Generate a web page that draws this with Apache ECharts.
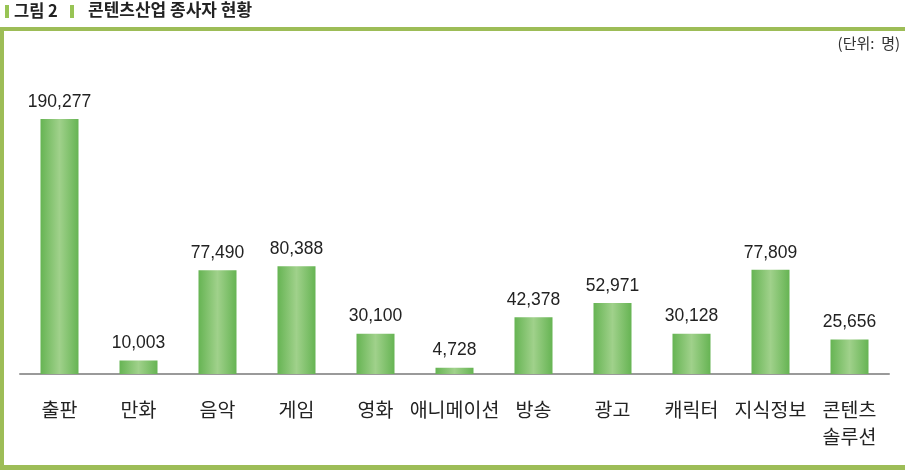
<!DOCTYPE html>
<html>
<head>
<meta charset="utf-8">
<script src="https://cdn.jsdelivr.net/npm/echarts@6/dist/echarts.min.js"></script>
<style>
html,body{margin:0;padding:0;background:#fff;}
#main{width:905px;height:470px;}
</style>
</head>
<body>
<div id="main"></div>
<script>
var categories=['출판','만화','음악','게임','영화','애니메이션','방송','광고','캐릭터','지식정보','콘텐츠\n솔루션']
var workers=[190277,10003,77490,80388,30100,4728,42378,52971,30128,77809,25656]

var font='"Noto Sans CJK KR", "Noto Sans", sans-serif'
var frameColor='#9dbd57'

var chart=echarts.init(document.getElementById('main'))
chart.setOption({
    animation:false,
    graphic:[
        {type:'rect',shape:{x:5,y:5,width:4,height:13},style:{fill:'#98c455'}},
        {type:'text',left:14,top:2,style:{text:'그림 2',font:'bold 16.5px '+font,fill:'#222'}},
        {type:'rect',shape:{x:70,y:5,width:4,height:13},style:{fill:'#98c455'}},
        {type:'text',left:88,top:1,style:{text:'콘텐츠산업 종사자 현황',font:'bold 17px '+font,fill:'#222'}},
        {type:'rect',shape:{x:0,y:27,width:905,height:4},style:{fill:frameColor}},
        {type:'rect',shape:{x:0,y:27,width:4,height:443},style:{fill:frameColor}},
        {type:'rect',shape:{x:0,y:465,width:905,height:5},style:{fill:frameColor}},
        {type:'text',right:5,top:36,style:{text:'(단위:  명)',font:'15px '+font,fill:'#333'}}
    ],
    grid:{left:20,right:16,top:106,bottom:96},
    xAxis:{
        type:'category',
        data:categories,
        axisLine:{lineStyle:{color:'#9a9a9a',width:2}},
        axisTick:{show:false},
        axisLabel:{color:'#222',fontSize:19.5,fontFamily:font,margin:22,lineHeight:27,interval:0}
    },
    yAxis:{
        type:'value',
        min:0,
        max:200000,
        show:false,
        splitLine:{show:false}
    },
    series:[{
        type:'bar',
        data:workers,
        barWidth:38,
        itemStyle:{
            color:new echarts.graphic.LinearGradient(0,0,1,0,[
                {offset:0,color:'#66b453'},
                {offset:0.5,color:'#a0d18b'},
                {offset:1,color:'#66b453'}
            ])
        },
        label:{
            show:true,
            position:'top',
            distance:8,
            color:'#222',
            fontSize:17.5,
            fontFamily:'"Liberation Sans", Arial, sans-serif',
            formatter:function(p){return p.value.toLocaleString('en-US')}
        }
    }]
})
</script>
</body>
</html>
